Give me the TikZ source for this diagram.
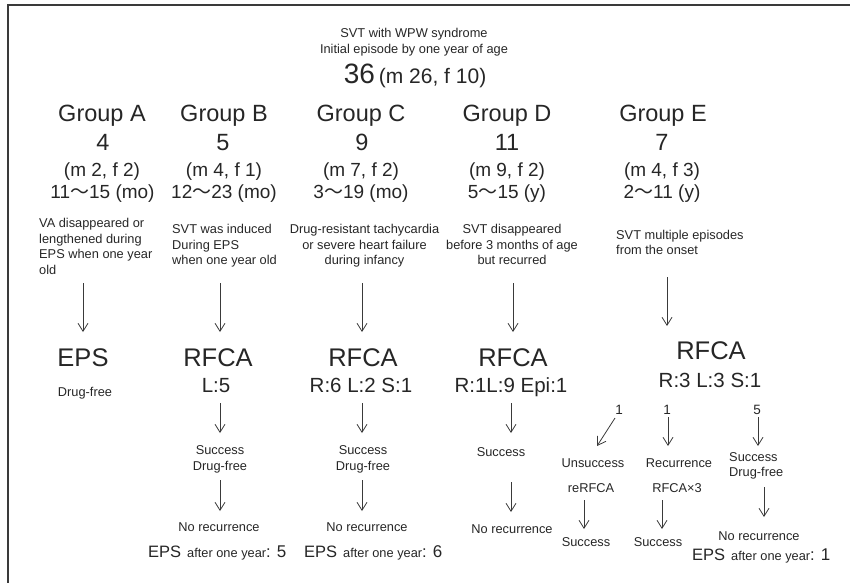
\documentclass[tikz,border=0pt]{standalone}
\usepackage{fontspec}
\setmainfont{Liberation Sans}
\newfontfamily\cjkfont{Noto Sans CJK JP}
\usetikzlibrary{arrows.meta}
\definecolor{ink}{HTML}{262626}
\definecolor{linec}{HTML}{3A3A3A}
\newcommand{\wave}{{\cjkfont ～}}
\newcommand{\epsline}[1]{{\fontsize{16.5}{18}\selectfont EPS}\hspace{6pt}{\fontsize{12.8}{15}\selectfont after one year}{\fontsize{16.5}{18}\selectfont :\hspace{6pt}\fontsize{17}{18}\selectfont #1}}
\tikzset{
  txt/.style={inner sep=0pt, text=ink, anchor=base},
  sm/.style={txt, font=\fontsize{12.8}{15.5}\selectfont},
  num/.style={txt, font=\fontsize{13.5}{15.5}\selectfont},
  mid/.style={txt, font=\fontsize{19}{22}\selectfont},
  grp/.style={txt, font=\fontsize{23.5}{27}\selectfont},
  huge/.style={txt, font=\fontsize{25.5}{29}\selectfont},
  sub/.style={txt, font=\fontsize{20.5}{24}\selectfont},
  desc/.style={inner sep=0pt, text=ink, font=\fontsize{12.8}{15.5}\selectfont},
  arr/.style={draw=linec, line width=0.8pt, -{Straight Barb[length=8pt,width=10pt]}},
  frame/.style={draw=linec, line width=1.4pt}
}
\begin{document}
\begin{tikzpicture}[x=1pt,y=-1pt]
\useasboundingbox (0,0) rectangle (850,582);
\draw[frame] (851,5) -- (8,5) -- (8,583);

% title
\node[sm] (t1) at (414,37) {SVT with WPW syndrome};
\node[sm] (t2) at (414,53) {Initial episode by one year of age};
\node[txt] (tot) at (415,83) {\fontsize{28}{30}\selectfont 36\hspace{4pt}\fontsize{21}{24}\selectfont(m 26, f 10)};

% groups
\node[grp] (gA) at (102,121) {Group A};
\node[grp] (gB) at (224,121) {Group B};
\node[grp] (gC) at (361,121) {Group C};
\node[grp] (gD) at (507,121) {Group D};
\node[grp] (gE) at (663,121) {Group E};

\node[grp] (nA) at (103,150) {4};
\node[grp] (nB) at (223,150) {5};
\node[grp] (nC) at (362,150) {9};
\node[grp] (nD) at (507,150) {11};
\node[grp] (nE) at (662,150) {7};

\node[mid] (sA) at (102,176) {(m 2, f 2)};
\node[mid] (sB) at (224,176) {(m 4, f 1)};
\node[mid] (sC) at (361,176) {(m 7, f 2)};
\node[mid] (sD) at (507,176) {(m 9, f 2)};
\node[mid] (sE) at (662,176) {(m 4, f 3)};

\node[mid] (aA) at (102.5,198) {11\wave 15 (mo)};
\node[mid] (aB) at (224,198) {12\wave 23 (mo)};
\node[mid] (aC) at (361,198) {3\wave 19 (mo)};
\node[mid] (aD) at (507,198) {5\wave 15 (y)};
\node[mid] (aE) at (662,198) {2\wave 11 (y)};

% descriptions
\node[desc, anchor=north west, align=left] (dA) at (39,218.3) {VA disappeared or\\lengthened during\\EPS when one year\\old};
\node[desc, anchor=north west, align=left] (dB) at (172,224.5) {SVT was induced\\During EPS\\when one year old};
\node[desc, anchor=north, align=center] (dC) at (364.5,224.5) {Drug-resistant tachycardia\\or severe heart failure\\during infancy};
\node[desc, anchor=north, align=center] (dD) at (512,224.5) {SVT disappeared\\before 3 months of age\\but recurred};
\node[desc, anchor=north west, align=left] (dE) at (616,230) {SVT multiple episodes\\from the onset};

% treatment
\node[huge] (tA) at (83,366) {EPS};
\node[huge] (tB) at (218,366) {RFCA};
\node[huge] (tC) at (363,366) {RFCA};
\node[huge] (tD) at (513,366) {RFCA};
\node[huge] (tE) at (711,359) {RFCA};

\node[sm] (fA) at (85,396) {Drug-free};
\node[sub] (lB) at (216,392) {L:5};
\node[sub] (lC) at (361,392) {R:6 L:2 S:1};
\node[sub] (lD) at (511,392) {R:1L:9 Epi:1};
\node[sub] (lE) at (710,387) {R:3 L:3 S:1};

\coordinate (a1A) at (83,283);  \coordinate (b1A) at (83,332);
\coordinate (a1B) at (220,283); \coordinate (b1B) at (220,332);
\coordinate (a1C) at (362,283); \coordinate (b1C) at (362,332);
\coordinate (a1D) at (513,283); \coordinate (b1D) at (513,332);
\coordinate (a1E) at (667,277); \coordinate (b1E) at (667,326);
\foreach \g in {A,B,C,D,E} \draw[arr] (a1\g) -- (b1\g);

% results B, C, D
\node[desc, anchor=north, align=center] (rB) at (220,445.8) {Success\\Drug-free};
\node[desc, anchor=north, align=center] (rC) at (363,445.8) {Success\\Drug-free};
\node[sm] (rD) at (501,456) {Success};

\coordinate (a2B) at (220,403); \coordinate (b2B) at (220,433);
\coordinate (a2C) at (362,403); \coordinate (b2C) at (362,433);
\coordinate (a2D) at (511,403); \coordinate (b2D) at (511,433);
\coordinate (a3B) at (220,480); \coordinate (b3B) at (220,511);
\coordinate (a3C) at (362,480); \coordinate (b3C) at (362,511);
\coordinate (a3D) at (511,482); \coordinate (b3D) at (511,512);
\foreach \g in {B,C,D} {\draw[arr] (a2\g) -- (b2\g); \draw[arr] (a3\g) -- (b3\g);}

\node[sm] (nrB) at (219,531.5) {No recurrence};
\node[sm] (nrC) at (367,531.5) {No recurrence};
\node[sm] (nrD) at (512,533) {No recurrence};

\node[txt, anchor=base west] (eB) at (148,557.5) {\epsline{5}};
\node[txt, anchor=base west] (eC) at (304,557.5) {\epsline{6}};

% Group E branches
\node[num] (k1) at (619,414.5) {1};
\node[num] (k2) at (667,414.5) {1};
\node[num] (k3) at (757,414.5) {5};

\coordinate (e1s) at (615,418); \coordinate (e1e) at (597,446);
\coordinate (e2s) at (668,417); \coordinate (e2e) at (668,446);
\coordinate (e3s) at (758,417); \coordinate (e3e) at (758,446);
\draw[arr] (e1s) -- (e1e);
\draw[arr] (e2s) -- (e2e);
\draw[arr] (e3s) -- (e3e);

\node[sm] (u1) at (593,467) {Unsuccess};
\node[sm] (u2) at (679,467) {Recurrence};
\node[desc, anchor=north west, align=left] (u3) at (729,452.3) {Success\\Drug-free};

\node[sm] (v1) at (591,492) {reRFCA};
\node[sm] (v2) at (677,492) {RFCA×3};

\coordinate (f1s) at (584,500); \coordinate (f1e) at (584,529);
\coordinate (f2s) at (662,500); \coordinate (f2e) at (662,529);
\coordinate (f3s) at (764,487); \coordinate (f3e) at (764,517);
\draw[arr] (f1s) -- (f1e);
\draw[arr] (f2s) -- (f2e);
\draw[arr] (f3s) -- (f3e);

\node[sm] (w1) at (586,546.5) {Success};
\node[sm] (w2) at (658,546.5) {Success};
\node[sm] (w3) at (759,540) {No recurrence};
\node[txt, anchor=base west] (eE) at (692,560) {\epsline{1}};
\end{tikzpicture}
\end{document}
